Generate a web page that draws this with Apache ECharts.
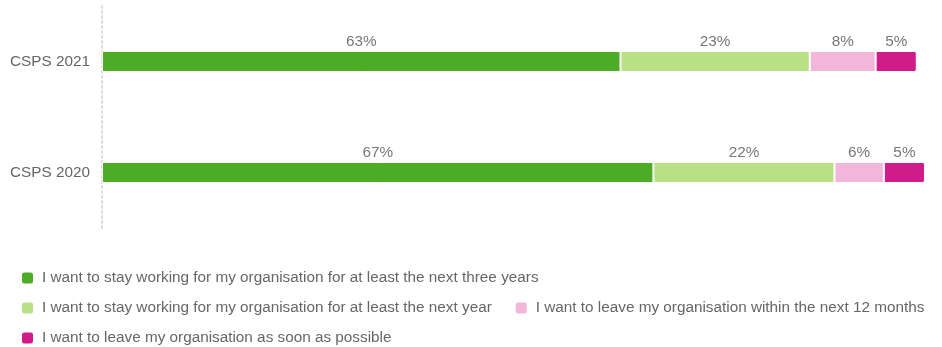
<!DOCTYPE html>
<html>
<head>
<meta charset="utf-8">
<script src="https://cdn.jsdelivr.net/npm/echarts@6/dist/echarts.min.js"></script>
<style>
  html, body { margin: 0; padding: 0; background: #fff; }
  #chart { width: 942px; height: 347px; }
</style>
</head>
<body>
<div id="chart"></div>
<script>
// Survey years shown on the category axis (top to bottom)
const categories = ['CSPS 2021', 'CSPS 2020'];

// Share of respondents (%) per intention, in category order
const stayThreeYears = [63, 67];
const stayOneYear = [23, 22];
const leaveTwelveMonths = [8, 6];
const leaveAsap = [5, 5];

const seriesNames = [
  'I want to stay working for my organisation for at least the next three years',
  'I want to stay working for my organisation for at least the next year',
  'I want to leave my organisation within the next 12 months',
  'I want to leave my organisation as soon as possible'
];
const seriesValues = [stayThreeYears, stayOneYear, leaveTwelveMonths, leaveAsap];
const colors = ['#4dac26', '#b8e186', '#f1b6da', '#d01c8b'];

const fontFamily = '"Liberation Sans", Arial, sans-serif';
const fontSize = 15.3;

const chart = echarts.init(document.getElementById('chart'), null, { renderer: 'canvas' });

chart.setOption({
  animation: false,
  textStyle: { fontFamily: fontFamily },
  grid: { left: 102, right: 17, top: 6, bottom: 119, containLabel: false },
  xAxis: {
    type: 'value',
    min: 0,
    max: 100,
    show: false
  },
  yAxis: {
    type: 'category',
    data: categories,
    inverse: true,
    axisTick: { show: false },
    axisLine: { show: true, lineStyle: { color: '#dddddd', type: [2, 3], width: 2 } },
    axisLabel: { color: '#666', fontSize: fontSize, margin: 12, fontFamily: fontFamily },
    splitLine: { show: false }
  },
  legend: {
    left: 20,
    top: 270,
    width: 922,
    padding: 0,
    orient: 'horizontal',
    icon: 'roundRect',
    itemWidth: 13,
    itemHeight: 13,
    itemGap: 14,
    textStyle: {
      color: '#666',
      fontSize: fontSize,
      lineHeight: 16,
      padding: [0, 8, 0, 3],
      fontFamily: fontFamily
    },
    data: seriesNames
  },
  series: seriesNames.map((name, i) => ({
    name: name,
    type: 'bar',
    stack: 'total',
    barWidth: 21,
    data: seriesValues[i],
    itemStyle: {
      color: colors[i],
      borderColor: '#fff',
      borderWidth: 1,
      borderRadius: i === seriesNames.length - 1 ? [0, 2, 2, 0] : 0
    },
    label: {
      show: true,
      position: 'top',
      distance: 2,
      color: '#777',
      fontSize: fontSize,
      fontFamily: fontFamily,
      formatter: (p) => p.value + '%'
    }
  }))
});
</script>
</body>
</html>
